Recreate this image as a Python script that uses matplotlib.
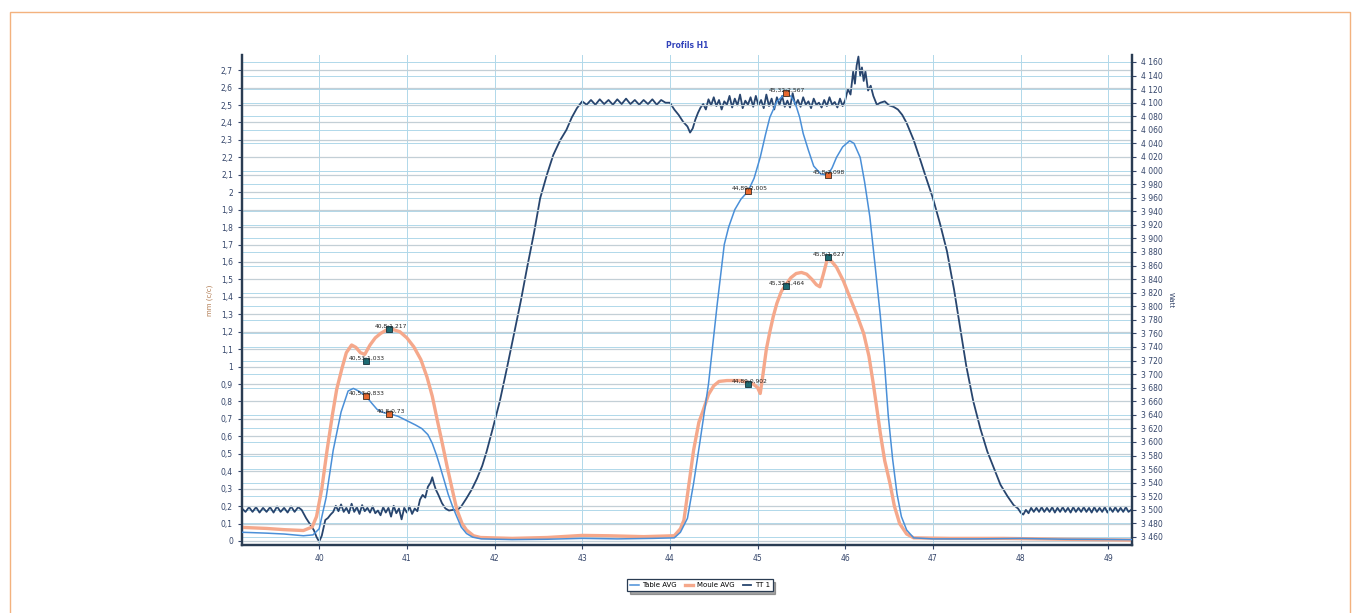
import numpy as np
import matplotlib
matplotlib.use("Agg")
import matplotlib.pyplot as plt
from matplotlib.ticker import FuncFormatter, MultipleLocator
from matplotlib.patches import Rectangle

# ---- data ----
table_x = [39.12, 39.4, 39.6, 39.82, 39.93, 40.0, 40.08, 40.16, 40.25, 40.33, 40.39, 40.45,
           40.53, 40.6, 40.66, 40.74, 40.8, 40.9, 41.0, 41.1, 41.17, 41.24, 41.29, 41.34,
           41.38, 41.43, 41.47, 41.52, 41.57, 41.62, 41.68, 41.75, 41.85, 42.2, 42.6, 43.0,
           43.4, 43.8, 44.05, 44.12, 44.2, 44.27, 44.34, 44.44, 44.54, 44.62, 44.67, 44.74,
           44.81, 44.89, 44.96, 45.03, 45.09, 45.14, 45.22, 45.32, 45.38, 45.43, 45.48, 45.52,
           45.58, 45.64, 45.72, 45.8, 45.85, 45.9, 45.97, 46.05, 46.1, 46.17, 46.22, 46.28,
           46.34, 46.4, 46.45, 46.49, 46.54, 46.59, 46.64, 46.7, 46.78, 47.0, 47.5, 48.0,
           48.5, 49.27]
table_y = [0.05, 0.045, 0.04, 0.03, 0.035, 0.07, 0.25, 0.52, 0.74, 0.86, 0.875, 0.86,
           0.833, 0.79, 0.755, 0.735, 0.73, 0.715, 0.69, 0.665, 0.645, 0.61, 0.56, 0.49,
           0.425, 0.34, 0.27, 0.2, 0.139, 0.08, 0.043, 0.022, 0.012, 0.008, 0.01, 0.015,
           0.012, 0.015, 0.018, 0.05, 0.13, 0.33, 0.56, 0.9, 1.36, 1.7, 1.8, 1.9,
           1.96, 2.005, 2.08, 2.2, 2.33, 2.43, 2.52, 2.567, 2.55, 2.51, 2.43, 2.337,
           2.24, 2.15, 2.105, 2.098, 2.14, 2.2, 2.26, 2.295, 2.28, 2.2, 2.06, 1.86,
           1.58, 1.29, 1.0, 0.72, 0.47, 0.27, 0.14, 0.063, 0.018, 0.012, 0.012, 0.015,
           0.01, 0.008]

moule_x = [39.12, 39.4, 39.6, 39.82, 39.92, 39.97, 40.03, 40.09, 40.15, 40.2, 40.26, 40.31,
           40.37, 40.42, 40.47, 40.52, 40.58, 40.64, 40.7, 40.8, 40.92, 41.0, 41.08, 41.16,
           41.23, 41.29, 41.34, 41.4, 41.46, 41.52, 41.57, 41.63, 41.68, 41.76, 41.84, 42.2,
           42.6, 43.0, 43.3, 43.7, 44.05, 44.12, 44.16, 44.21, 44.27, 44.33, 44.38, 44.44,
           44.5, 44.56, 44.65, 44.8, 44.95, 45.0, 45.03, 45.06, 45.1, 45.14, 45.18, 45.22,
           45.27, 45.32, 45.38, 45.44, 45.5, 45.56, 45.62, 45.67, 45.71, 45.75, 45.8, 45.85,
           45.9, 45.98, 46.05, 46.13, 46.21, 46.27, 46.32, 46.36, 46.4, 46.45, 46.51, 46.56,
           46.62, 46.7, 46.78, 47.2, 47.8, 48.5, 49.27]
moule_y = [0.078, 0.072, 0.065, 0.06, 0.08, 0.14, 0.3, 0.52, 0.72, 0.87, 0.99, 1.08,
           1.124, 1.11, 1.08, 1.07, 1.124, 1.165, 1.19, 1.22, 1.2, 1.165, 1.113, 1.04,
           0.94, 0.83, 0.71, 0.57, 0.425, 0.29, 0.18, 0.1, 0.063, 0.03, 0.02, 0.015,
           0.02, 0.032, 0.03, 0.025, 0.03, 0.07, 0.12, 0.3, 0.52, 0.68, 0.75, 0.84,
           0.89, 0.915, 0.92, 0.92, 0.9, 0.88, 0.846, 0.95, 1.1, 1.2, 1.29, 1.363,
           1.43, 1.468, 1.51, 1.534, 1.54, 1.53, 1.5, 1.47, 1.458, 1.53, 1.627, 1.6,
           1.57, 1.49, 1.4, 1.3, 1.19, 1.06, 0.9, 0.76, 0.617, 0.46, 0.33, 0.2,
           0.1, 0.04, 0.018, 0.015, 0.015, 0.01, 0.005]

tt1_x = [39.12, 39.16, 39.2, 39.24, 39.28, 39.32, 39.36, 39.4, 39.44, 39.48, 39.52, 39.56,
         39.6, 39.64, 39.68, 39.72, 39.76, 39.8, 39.85, 39.9, 39.94, 39.97, 40.0, 40.03,
         40.07, 40.1, 40.13, 40.16, 40.19, 40.22, 40.25, 40.28, 40.31, 40.34, 40.37, 40.4,
         40.43, 40.46, 40.49, 40.52, 40.55, 40.58, 40.61, 40.64, 40.67, 40.7, 40.73, 40.76,
         40.79, 40.82, 40.85, 40.88, 40.91, 40.94, 40.97, 41.0, 41.03, 41.06, 41.09, 41.12,
         41.15, 41.18, 41.21, 41.24, 41.27, 41.29, 41.31, 41.33, 41.36, 41.4, 41.44, 41.48,
         41.53, 41.57, 41.62, 41.68, 41.74, 41.8, 41.86, 41.91, 41.98, 42.06, 42.14, 42.22,
         42.3, 42.37, 42.45, 42.52, 42.6, 42.67, 42.75, 42.82, 42.88, 42.94, 43.0, 43.05,
         43.1, 43.15, 43.2, 43.25, 43.3, 43.35, 43.4, 43.45, 43.5, 43.55, 43.6, 43.65,
         43.7, 43.75, 43.8, 43.85, 43.9, 43.95, 44.0, 44.05, 44.1, 44.15, 44.2, 44.23,
         44.26, 44.29, 44.32, 44.35, 44.38, 44.41, 44.44, 44.47, 44.5, 44.53, 44.56, 44.59,
         44.62, 44.65, 44.68, 44.71, 44.74, 44.77, 44.8, 44.83, 44.86, 44.89, 44.92, 44.95,
         44.98, 45.01, 45.04, 45.07, 45.1, 45.13, 45.16, 45.19, 45.22, 45.25, 45.28, 45.31,
         45.34, 45.37, 45.4, 45.43, 45.46, 45.49, 45.52, 45.55, 45.58, 45.61, 45.64, 45.67,
         45.7, 45.73, 45.76, 45.79, 45.82, 45.85, 45.88, 45.91, 45.94, 45.97, 46.0, 46.03,
         46.06, 46.09, 46.11, 46.13, 46.15, 46.17, 46.19, 46.21, 46.23, 46.26, 46.29, 46.32,
         46.36, 46.4, 46.45, 46.5, 46.55, 46.6, 46.65, 46.7, 46.78, 46.85, 46.92, 47.0,
         47.08, 47.16, 47.24, 47.31, 47.38, 47.46, 47.54, 47.62, 47.7, 47.77, 47.85, 47.92,
         47.97, 48.0, 48.03, 48.06, 48.09, 48.12, 48.15, 48.18, 48.21, 48.24, 48.27, 48.3,
         48.33, 48.36, 48.39, 48.42, 48.45, 48.48, 48.51, 48.54, 48.57, 48.6, 48.63, 48.66,
         48.69, 48.72, 48.75, 48.78, 48.81, 48.84, 48.87, 48.9, 48.93, 48.96, 48.99, 49.02,
         49.05, 49.08, 49.11, 49.14, 49.17, 49.2, 49.23, 49.27]
tt1_w = [3502, 3497, 3504, 3497, 3504, 3496, 3503, 3497, 3504, 3496, 3505, 3497,
         3503, 3496, 3505, 3497, 3504, 3500, 3488, 3478, 3470, 3460, 3453, 3462,
         3485, 3488, 3493, 3497, 3506, 3498, 3508, 3497, 3503, 3495, 3509, 3497,
         3504, 3494, 3507, 3498, 3503, 3496, 3505, 3495, 3499, 3492, 3504, 3496,
         3503, 3490, 3506, 3495, 3502, 3486, 3503, 3496, 3505, 3494, 3502, 3498,
         3515, 3522, 3518, 3534, 3540, 3548, 3538, 3530, 3522, 3510, 3502, 3499,
         3500, 3499, 3505, 3517, 3530, 3546, 3565, 3586, 3620, 3660, 3708, 3758,
         3808, 3856, 3908, 3959, 3995, 4023, 4045, 4060, 4078, 4092, 4102, 4097,
         4104, 4097, 4105, 4098, 4104, 4097, 4105, 4098, 4106, 4098, 4104, 4097,
         4104, 4098, 4105, 4097, 4104, 4100, 4100, 4090, 4082, 4072, 4065, 4056,
         4062, 4075, 4085, 4093, 4098, 4090, 4105, 4096, 4108, 4095, 4104, 4090,
         4102, 4097, 4110, 4093, 4106, 4096, 4112, 4092, 4103, 4097, 4108, 4094,
         4110, 4096, 4104, 4092, 4112, 4095, 4106, 4090, 4108, 4097, 4110, 4094,
         4103, 4093, 4114, 4096, 4104, 4094, 4108, 4097, 4102, 4092, 4106, 4097,
         4100, 4093, 4104, 4095, 4108, 4097, 4101, 4093, 4106, 4095, 4104, 4120,
         4112, 4146, 4128, 4155, 4168, 4140, 4152, 4132, 4146, 4118, 4125, 4110,
         4097, 4100, 4102, 4096, 4094, 4090, 4082, 4070, 4045, 4018, 3990, 3959,
         3922, 3881, 3825, 3768, 3712, 3660, 3620, 3586, 3560, 3537, 3520, 3507,
         3502, 3496, 3493, 3500, 3495, 3503, 3497, 3503, 3497, 3504, 3497, 3503,
         3497, 3504, 3496, 3503, 3497, 3504, 3497, 3503, 3496, 3504, 3497, 3503,
         3497, 3504, 3497, 3503, 3496, 3504, 3497, 3503, 3497, 3504, 3496, 3503,
         3497, 3504, 3497, 3503, 3497, 3504, 3497, 3501]

# picked points (marker on Table AVG / marker on Moule AVG)
pick_x = [40.53, 40.8, 44.89, 45.32, 45.8]
pick_table = [0.833, 0.73, 2.005, 2.567, 2.098]
pick_moule = [1.033, 1.217, 0.902, 1.464, 1.627]

c_table = "#4a8fd8"
c_moule = "#f5a88b"
c_tt = "#28456e"
c_txt = "#34456a"

fig = plt.figure(figsize=(13.59, 6.13), dpi=100)
ax1 = fig.add_axes([242 / 1359, 1 - 545 / 613, 890 / 1359, 490 / 613])
ax2 = ax1.twinx()
ax1.set_zorder(ax2.get_zorder() + 1)
ax1.patch.set_visible(False)

ax1.plot(table_x, table_y, color=c_table, lw=1.1, label="Table AVG", zorder=3)
ax1.plot(moule_x, moule_y, color=c_moule, lw=2.4, label="Moule AVG", zorder=2)
ax2.plot(tt1_x, tt1_w, color=c_tt, lw=1.3, label="TT 1", zorder=3)

ax1.plot(pick_x, pick_table, "s", ms=4.5, mfc="#e8692f", mec="#3a2a20", mew=0.6, zorder=5)
ax1.plot(pick_x, pick_moule, "s", ms=4.5, mfc="#1d6a72", mec="#15303a", mew=0.6, zorder=5)
for xv, yv in list(zip(pick_x, pick_table)) + list(zip(pick_x, pick_moule)):
    lab = f"{xv:g};{yv:g}".replace(".", ",")
    ax1.annotate(lab, (xv, yv), xytext=(1, 2), textcoords="offset points",
                 ha="center", va="center", fontsize=4.3, color="#222222", zorder=6)

ax1.set_xlim(39.12, 49.27)
ax1.set_ylim(-0.023, 2.787)
ax2.set_ylim(3448.2, 4170.3)

ax1.xaxis.set_major_locator(MultipleLocator(1))
ax1.yaxis.set_major_locator(MultipleLocator(0.1))
ax2.yaxis.set_major_locator(MultipleLocator(20))


def fmt_left(v, pos):
    return f"{v:.1f}".rstrip("0").rstrip(".").replace(".", ",")


def fmt_right(v, pos):
    return f"{int(round(v)):,}".replace(",", " ")


ax1.yaxis.set_major_formatter(FuncFormatter(fmt_left))
ax1.xaxis.set_major_formatter(FuncFormatter(lambda v, p: f"{int(round(v))}"))
ax2.yaxis.set_major_formatter(FuncFormatter(fmt_right))

ax1.grid(axis="y", color="#c3cfd6", lw=0.9)
ax1.grid(axis="x", color="#b0d8ea", lw=0.7)
ax2.grid(axis="y", color="#b0d8ea", lw=0.7)
ax1.set_axisbelow(True)
ax2.set_axisbelow(True)

for ax in (ax1, ax2):
    ax.spines["top"].set_visible(False)
    for s in ("left", "right", "bottom"):
        ax.spines[s].set_color("#2a3c52")
        ax.spines[s].set_linewidth(1.6)
    ax.tick_params(labelsize=5.5, colors=c_txt, length=3, width=0.8)

ax1.set_ylabel("mm (c/c)", fontsize=5, color="#b07a50", labelpad=6)
ax2.set_ylabel("Watt", fontsize=5, color=c_txt, rotation=270, labelpad=8)
ax1.set_title("Profils H1", fontsize=5.5, color="#3344bb", fontweight="bold", pad=5)

handles = ax1.get_lines()[:2] + ax2.get_lines()[:1]
leg = fig.legend(handles, [h.get_label() for h in handles], loc="center",
                 bbox_to_anchor=(700 / 1359, 1 - 585 / 613), ncol=3, fontsize=5,
                 frameon=True, fancybox=False, shadow=True, handlelength=1.2,
                 columnspacing=1.2, handletextpad=0.5, borderpad=0.4)
leg.get_frame().set_edgecolor("#2a3c52")
leg.get_frame().set_linewidth(0.9)

fig.patches.append(Rectangle((10 / 1359, -0.1), 1340 / 1359, 1.1 - 12 / 613,
                             transform=fig.transFigure, fill=False,
                             edgecolor="#f3b27e", lw=1.0))

fig.savefig("out.png", dpi=100)
